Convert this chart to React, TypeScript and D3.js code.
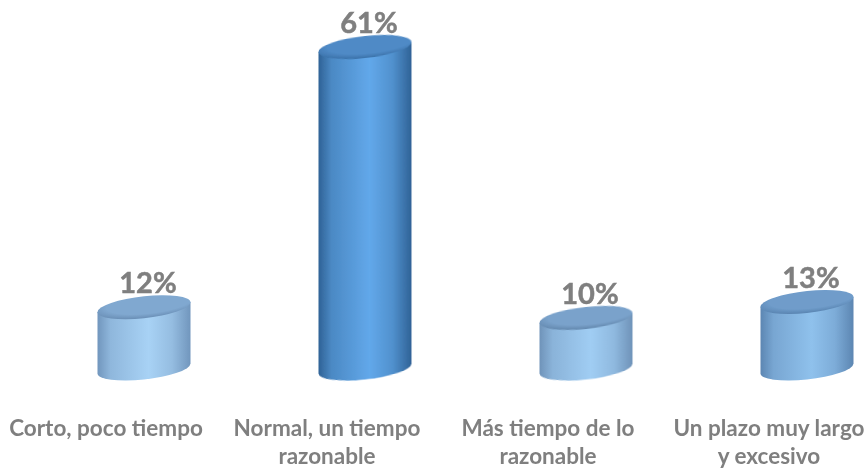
import React from "react";
import * as d3 from "d3";

const categories = ["Corto, poco tiempo", "Normal, un tiempo razonable", "Más tiempo de lo razonable", "Un plazo muy largo y excesivo"];
const labelLines = [["Corto, poco tiempo"], ["Normal, un tiempo", "razonable"], ["Más tiempo de lo", "razonable"], ["Un plazo muy largo", "y excesivo"]];
const values = [12, 61, 10, 13];
const bodyLight = ["#a8d2f5", "#62a8ea", "#a0cdf3", "#8fc1ec"];
const bodyDark = ["#7196bd", "#2f6296", "#6f93b9", "#5c86b2"];
const topColors = ["#80a8d0", "#4f8ac6", "#7aa2cb", "#6f9cca"];
const topEdge = ["#6a8fb6", "#3b72aa", "#6388ae", "#5a85b2"];

const W = 864, H = 468;
const x = d3.scaleBand<string>().domain(categories).range([33.5, 917.5]);
const y = d3.scaleLinear().domain([0, 61]).range([371, 47]);
const rx = 46.5, ry = 11;
const font = "Lato, 'Open Sans', sans-serif";

export default function App() {
  const base = y(0) - 2.5;
  return (
    <svg width={W} height={H} viewBox={`0 0 ${W} ${H}`} style={{ position: "fixed", left: 0, top: 0, background: "#fff" }}>
      <defs>
        <filter id="soft" x="-10%" y="-10%" width="120%" height="120%"><feGaussianBlur stdDeviation="0.5" /></filter>
        {values.map((_, i) => (
          <React.Fragment key={i}>
            <linearGradient id={`g${i}`} x1="0" x2="1" y1="0" y2="0">
              <stop offset="0" stopColor={bodyDark[i]} />
              <stop offset="0.14" stopColor={d3.interpolateRgb(bodyDark[i], bodyLight[i])(0.55)} />
              <stop offset="0.55" stopColor={bodyLight[i]} />
              <stop offset="0.8" stopColor={d3.interpolateRgb(bodyDark[i], bodyLight[i])(0.65)} />
              <stop offset="1" stopColor={bodyDark[i]} />
            </linearGradient>
            <radialGradient id={`t${i}`} cx="0.55" cy="0.35" r="0.65">
              <stop offset="0" stopColor={topColors[i]} />
              <stop offset="0.7" stopColor={topColors[i]} />
              <stop offset="1" stopColor={topEdge[i]} />
            </radialGradient>
          </React.Fragment>
        ))}
      </defs>
      <g filter="url(#soft)">
        {categories.map((c, i) => {
          const cx = x(c)! + x.bandwidth() / 2;
          const yt = y(values[i]);
          return (
            <g key={c} transform={`translate(${cx},0) skewY(-6)`}>
              <path
                d={`M${-rx},${yt} L${-rx},${base} A${rx},${ry} 0 0 0 ${rx},${base} L${rx},${yt} Z`}
                fill={`url(#g${i})`}
              />
              <ellipse cx={0} cy={yt} rx={rx} ry={ry} fill={`url(#t${i})`} />
            </g>
          );
        })}
        {categories.map((c, i) => {
          const cx = x(c)! + x.bandwidth() / 2;
          return (
            <text key={c} x={cx + 4} y={y(values[i]) - 14} textAnchor="middle" fontFamily={font} fontWeight={700} fontSize={29} fill="#7f7f7f" stroke="#7f7f7f" strokeWidth={0.5}>
              {values[i]}%
            </text>
          );
        })}
        {categories.map((c, i) => {
          const cx = x(c)! + x.bandwidth() / 2 - 38;
          return (
            <text key={c} textAnchor="middle" fontFamily={font} fontWeight={700} fontSize={22.5} fill="#7f7f7f">
              {labelLines[i].map((l, j) => (
                <tspan key={j} x={cx} y={435.5 + j * 28.5}>{l}</tspan>
              ))}
            </text>
          );
        })}
      </g>
    </svg>
  );
}
